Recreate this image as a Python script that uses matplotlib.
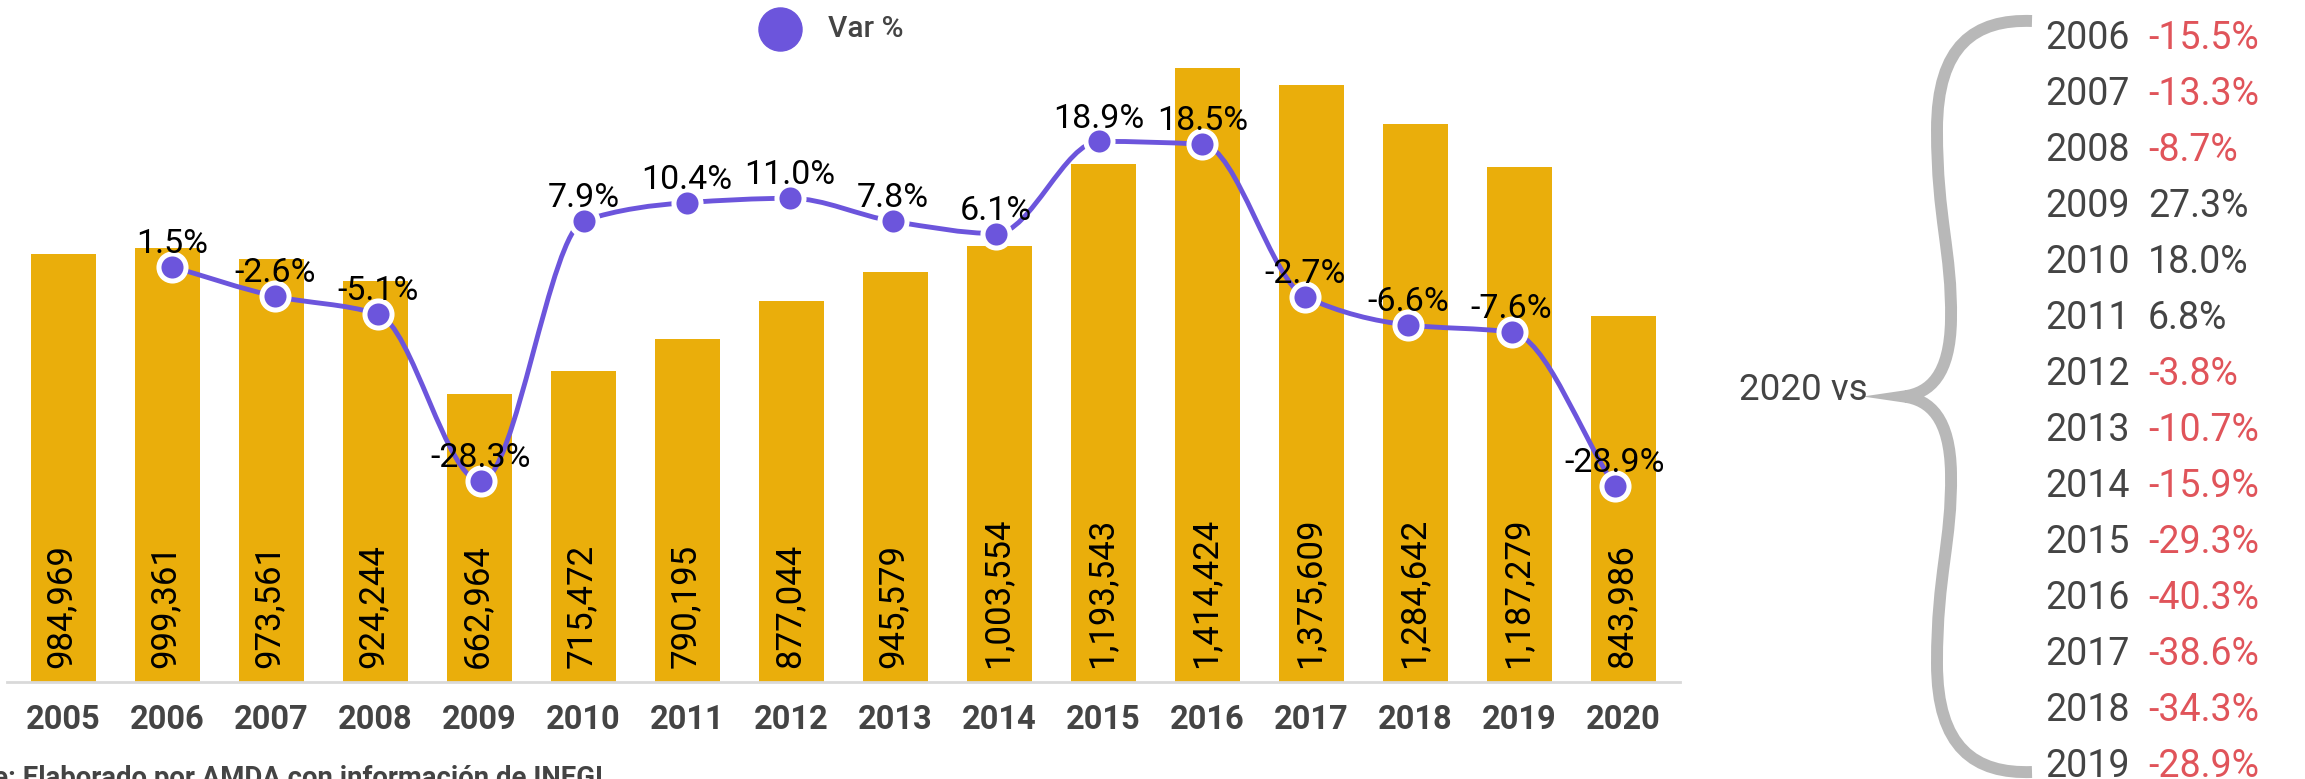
import numpy as np
import matplotlib.pyplot as plt
from matplotlib.path import Path
from matplotlib.patches import PathPatch
from matplotlib.lines import Line2D
from matplotlib.transforms import Affine2D

plt.rcParams.update({'font.family': ['Roboto', 'DejaVu Sans']})

# --- dati ---
anni = [2005, 2006, 2007, 2008, 2009, 2010, 2011, 2012, 2013, 2014,
        2015, 2016, 2017, 2018, 2019, 2020]
unidades = [984969, 999361, 973561, 924244, 662964, 715472, 790195, 877044,
            945579, 1003554, 1193543, 1414424, 1375609, 1284642, 1187279, 843986]
# variazione % (2006-2020)
var_pct = [1.5, -2.6, -5.1, -28.3, 7.9, 10.4, 11.0, 7.8, 6.1, 18.9, 18.5,
           -2.7, -6.6, -7.6, -28.9]
# 2020 vs anni precedenti
anni_cmp = [2006, 2007, 2008, 2009, 2010, 2011, 2012, 2013, 2014, 2015,
            2016, 2017, 2018, 2019]
cmp_2020 = [-15.5, -13.3, -8.7, 27.3, 18.0, 6.8, -3.8, -10.7, -15.9, -29.3,
            -40.3, -38.6, -34.3, -28.9]

ORO = '#EAAE0B'
VIOLA = '#6C55DC'
GRIGIO = '#444444'
ROSSO = '#E0545A'

W, H = 2305, 779
fig = plt.figure(figsize=(W / 100, H / 100), dpi=100)
fig.patch.set_facecolor('white')

# trasformazione in pixel (origine in alto a sinistra)
px = Affine2D().scale(1 / W, -1 / H).translate(0, 1) + fig.transFigure

rect = [7 / W, (H - 682) / H, 1673 / W, 672 / H]

# --- barre ---
ax = fig.add_axes(rect)
idx = np.arange(len(anni))
ax.bar(idx, unidades, width=0.625, color=ORO, zorder=2)
ax.set_xlim(-0.543, 15.543)
ax.set_ylim(0, 1548050)
for s in ['top', 'left', 'right']:
    ax.spines[s].set_visible(False)
ax.spines['bottom'].set_color('#D9D9D9')
ax.spines['bottom'].set_linewidth(2)
ax.set_yticks([])
ax.set_xticks(idx, labels=[str(a) for a in anni])
ax.tick_params(axis='x', length=0, pad=16, labelsize=23.5, labelcolor=GRIGIO)
for t in ax.get_xticklabels():
    t.set_fontweight('bold')
ax.set_facecolor('none')

for i, v in enumerate(unidades):
    ax.annotate(f"{v:,}", (i, 0), xytext=(-1.5, 10), textcoords='offset points',
                rotation=90, ha='center', va='bottom', fontsize=25, color='black',
                zorder=3)

# --- linea var % ---
ax2 = fig.add_axes(rect)
ax2.set_xlim(-0.599, 15.635)
ax2.set_ylim(-56.18, 37.15)
ax2.axis('off')

x = np.arange(1, len(var_pct) + 1, dtype=float)
y = np.array(var_pct)

# curva monotona (Fritsch-Carlson) disegnata con Bezier
d = np.diff(y) / np.diff(x)
m = np.zeros_like(y)
m[0], m[-1] = d[0], d[-1]
for k in range(1, len(y) - 1):
    if d[k - 1] * d[k] > 0:
        m[k] = 2 * d[k - 1] * d[k] / (d[k - 1] + d[k])
verts = [(x[0], y[0])]
codes = [Path.MOVETO]
for k in range(len(y) - 1):
    h = x[k + 1] - x[k]
    verts += [(x[k] + h / 3, y[k] + m[k] * h / 3),
              (x[k + 1] - h / 3, y[k + 1] - m[k + 1] * h / 3),
              (x[k + 1], y[k + 1])]
    codes += [Path.CURVE4] * 3
ax2.add_patch(PathPatch(Path(verts, codes), fill=False, edgecolor=VIOLA,
                        lw=3.5, zorder=3))
ax2.plot(x, y, 'o', ms=19.5, mfc=VIOLA, mec='white', mew=3.6, zorder=4)
for xi, yi in zip(x, y):
    ax2.annotate(f"{yi:.1f}%", (xi, yi), xytext=(0, 10), textcoords='offset points',
                 ha='center', va='baseline', fontsize=24.5, color='black', zorder=5)

# --- legenda ---
fig.add_artist(Line2D([780], [29], transform=px, marker='o', ms=31,
                      color=VIOLA, lw=0))
fig.text(828 / W, 1 - 29 / H, "Var %", ha='left', va='center', fontsize=21.5,
         color=GRIGIO, fontweight='medium')

# --- fonte ---
fig.text(603 / W, 1 - 786 / H, "Fuente: Elaborado por AMDA con información de INEGI",
         ha='right', va='baseline', fontsize=19.8, fontweight='bold', color=GRIGIO)

# --- pannello destro ---
fig.text(1739 / W, 1 - 400 / H, "2020 vs", ha='left', va='baseline',
         fontsize=26.5, color=GRIGIO)

c = 396.5
sup = [(2032, 21), (1975, 19), (1937, 45), (1937, 130),
       (1937, 220), (1952, 250), (1951, 320),
       (1950, 375), (1930, 393), (1904, c)]
inf = [(xx, 2 * c - yy) for xx, yy in sup[::-1]][1:]
bverts = sup + inf
bcodes = [Path.MOVETO] + [Path.CURVE4] * (len(bverts) - 1)
fig.add_artist(PathPatch(Path(bverts, bcodes), transform=px, fill=False,
                         edgecolor='#B8B8B8', lw=8.6, capstyle='butt',
                         joinstyle='miter'))

for k, (a, v) in enumerate(zip(anni_cmp, cmp_2020)):
    yb = 1 - (49 + 56 * k) / H
    fig.text(2045 / W, yb, str(a), ha='left', va='baseline', fontsize=27,
             color=GRIGIO)
    fig.text(2148 / W, yb, f"{v:.1f}%", ha='left', va='baseline', fontsize=27,
             color=ROSSO if v < 0 else GRIGIO)

fig.savefig("out.png", dpi=100)
